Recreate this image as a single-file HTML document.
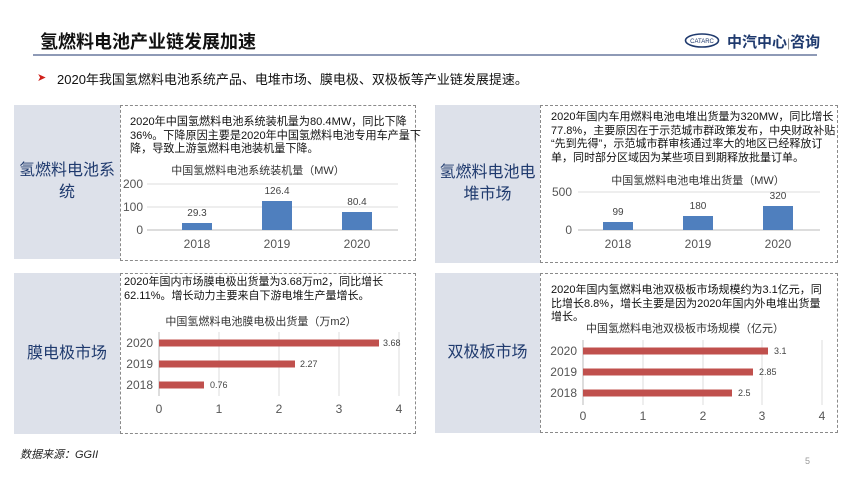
<!DOCTYPE html>
<html><head><meta charset="utf-8"><style>
body{margin:0;width:850px;height:478px;background:#fff;position:relative;overflow:hidden;font-family:"Liberation Sans","Noto Sans CJK SC",sans-serif;color:#222}
.a{position:absolute}
.g{position:absolute;background:#dde1ea;color:#1f3a6e;font-size:16px;display:flex;align-items:center;justify-content:center;text-align:center;line-height:22px}
.d{position:absolute;border:1.2px dashed #8a8a8a;box-sizing:border-box}
.t{position:absolute;font-size:11px;line-height:13.5px;color:#111;white-space:nowrap}
</style></head><body>
<div class="a" style="left:40px;top:28px;font-size:18px;font-weight:bold;color:#111">氢燃料电池产业链发展加速</div>
<div class="a" style="left:33px;top:54px;width:784px;height:2px;background:#8e9ab6"></div>
<svg class="a" style="left:684px;top:33px" width="36" height="15"><ellipse cx="18" cy="7.5" rx="16.5" ry="6.5" fill="none" stroke="#1f3a6e" stroke-width="1.6"/><text x="18" y="10" font-size="6" text-anchor="middle" fill="#1f3a6e" font-family="Liberation Sans">CATARC</text></svg>
<div class="a" style="left:727px;top:31px;font-size:15px;color:#1f3a6e;font-weight:bold">中汽中心<span style="font-weight:normal;color:#888;font-size:12px">|</span>咨询</div>
<div class="a" style="left:37px;top:71px;color:#d0201a;font-size:11px">➤</div>
<div class="a" style="left:57px;top:69px;font-size:13px;color:#111">2020年我国氢燃料电池系统产品、电堆市场、膜电极、双极板等产业链发展提速。</div>

<div class="g" style="left:14px;top:105px;width:106px;height:154px">氢燃料电池系<br>统</div>
<div class="d" style="left:120px;top:105px;width:296px;height:156px"></div>
<div class="t" style="left:130px;top:116px;font-size:11.1px">2020年中国氢燃料电池系统装机量为80.4MW，同比下降<br>36%。下降原因主要是2020年中国氢燃料电池专用车产量下<br>降，导致上游氢燃料电池装机量下降。</div>

<div class="g" style="left:435px;top:105px;width:105px;height:158px">氢燃料电池电<br>堆市场</div>
<div class="d" style="left:540px;top:105px;width:298px;height:158px"></div>
<div class="t" style="left:551px;top:111px">2020年国内车用燃料电池电堆出货量为320MW，同比增长<br>77.8%，主要原因在于示范城市群政策发布，中央财政补贴<br>“先到先得”，示范城市群审核通过率大的地区已经释放订<br>单，同时部分区域因为某些项目到期释放批量订单。</div>

<div class="g" style="left:14px;top:273px;width:106px;height:161px">膜电极市场</div>
<div class="d" style="left:120px;top:273px;width:296px;height:161px"></div>
<div class="t" style="left:124px;top:276px">2020年国内市场膜电极出货量为3.68万m2，同比增长<br>62.11%。增长动力主要来自下游电堆生产量增长。</div>

<div class="g" style="left:435px;top:273px;width:105px;height:160px">双极板市场</div>
<div class="d" style="left:540px;top:273px;width:298px;height:160px"></div>
<div class="t" style="left:551px;top:284px">2020年国内氢燃料电池双极板市场规模约为3.1亿元，同<br>比增长8.8%，增长主要是因为2020年国内外电堆出货量<br>增长。</div>

<svg class="a" style="left:0;top:0" width="850" height="478" font-family="Liberation Sans,Noto Sans CJK SC,sans-serif">
<text x="258" y="174" font-size="11" text-anchor="middle" fill="#333">中国氢燃料电池系统装机量（MW）</text>
<g stroke="#ddd"><line x1="147" y1="184" x2="398" y2="184"/><line x1="147" y1="207" x2="398" y2="207"/></g>
<line x1="147" y1="230" x2="398" y2="230" stroke="#bbb"/>
<g font-size="12" fill="#555" text-anchor="end"><text x="143" y="188">200</text><text x="143" y="211">100</text><text x="143" y="234">0</text></g>
<g fill="#4f7fbe"><rect x="182" y="223" width="30" height="7"/><rect x="262" y="201" width="30" height="29"/><rect x="342" y="212" width="30" height="18"/></g>
<g font-size="10" fill="#444" text-anchor="middle"><text x="197" y="216">29.3</text><text x="277" y="194">126.4</text><text x="357" y="205">80.4</text></g>
<g font-size="12" fill="#555" text-anchor="middle"><text x="197" y="248">2018</text><text x="277" y="248">2019</text><text x="357" y="248">2020</text></g>
<text x="698" y="184" font-size="11" text-anchor="middle" fill="#333">中国氢燃料电池电堆出货量（MW）</text>
<line x1="578" y1="192" x2="820" y2="192" stroke="#ddd"/>
<line x1="578" y1="230" x2="820" y2="230" stroke="#bbb"/>
<g font-size="12" fill="#555" text-anchor="end"><text x="572" y="196">500</text><text x="572" y="234">0</text></g>
<g fill="#4f7fbe"><rect x="603" y="222" width="30" height="8"/><rect x="683" y="216" width="30" height="14"/><rect x="763" y="206" width="30" height="24"/></g>
<g font-size="10" fill="#444" text-anchor="middle"><text x="618" y="215">99</text><text x="698" y="209">180</text><text x="778" y="199">320</text></g>
<g font-size="12" fill="#555" text-anchor="middle"><text x="618" y="248">2018</text><text x="698" y="248">2019</text><text x="778" y="248">2020</text></g>
<text x="261" y="325" font-size="11" text-anchor="middle" fill="#333">中国氢燃料电池膜电极出货量（万m2）</text>
<g stroke="#ddd"><line x1="219" y1="332" x2="219" y2="396"/><line x1="279" y1="332" x2="279" y2="396"/><line x1="339" y1="332" x2="339" y2="396"/><line x1="399" y1="332" x2="399" y2="396"/></g>
<line x1="159" y1="332" x2="159" y2="396" stroke="#bbb"/>
<g fill="#c0504d"><rect x="159" y="339.5" width="220" height="7"/><rect x="159" y="360.5" width="136" height="7"/><rect x="159" y="381.5" width="45" height="7"/></g>
<g font-size="9" fill="#444"><text x="383" y="346">3.68</text><text x="300" y="367">2.27</text><text x="210" y="388">0.76</text></g>
<g font-size="12" fill="#555" text-anchor="end"><text x="153" y="347">2020</text><text x="153" y="368">2019</text><text x="153" y="389">2018</text></g>
<g font-size="12" fill="#555" text-anchor="middle"><text x="159" y="413">0</text><text x="219" y="413">1</text><text x="279" y="413">2</text><text x="339" y="413">3</text><text x="399" y="413">4</text></g>
<text x="685" y="332" font-size="11" text-anchor="middle" fill="#333">中国氢燃料电池双极板市场规模（亿元）</text>
<g stroke="#ddd"><line x1="643" y1="340" x2="643" y2="405"/><line x1="703" y1="340" x2="703" y2="405"/><line x1="762" y1="340" x2="762" y2="405"/><line x1="822" y1="340" x2="822" y2="405"/></g>
<line x1="583" y1="340" x2="583" y2="405" stroke="#bbb"/>
<g fill="#c0504d"><rect x="583" y="347.5" width="185" height="7"/><rect x="583" y="368.5" width="170" height="7"/><rect x="583" y="389.5" width="149" height="7"/></g>
<g font-size="9" fill="#444"><text x="774" y="354">3.1</text><text x="759" y="375">2.85</text><text x="738" y="396">2.5</text></g>
<g font-size="12" fill="#555" text-anchor="end"><text x="577" y="355">2020</text><text x="577" y="376">2019</text><text x="577" y="397">2018</text></g>
<g font-size="12" fill="#555" text-anchor="middle"><text x="583" y="420">0</text><text x="643" y="420">1</text><text x="703" y="420">2</text><text x="762" y="420">3</text><text x="822" y="420">4</text></g>
</svg>
<div class="a" style="left:20px;top:446px;font-size:11px;font-style:italic;color:#222">数据来源：GGII</div>
<div class="a" style="left:805px;top:456px;font-size:9px;color:#999">5</div>
</body></html>
